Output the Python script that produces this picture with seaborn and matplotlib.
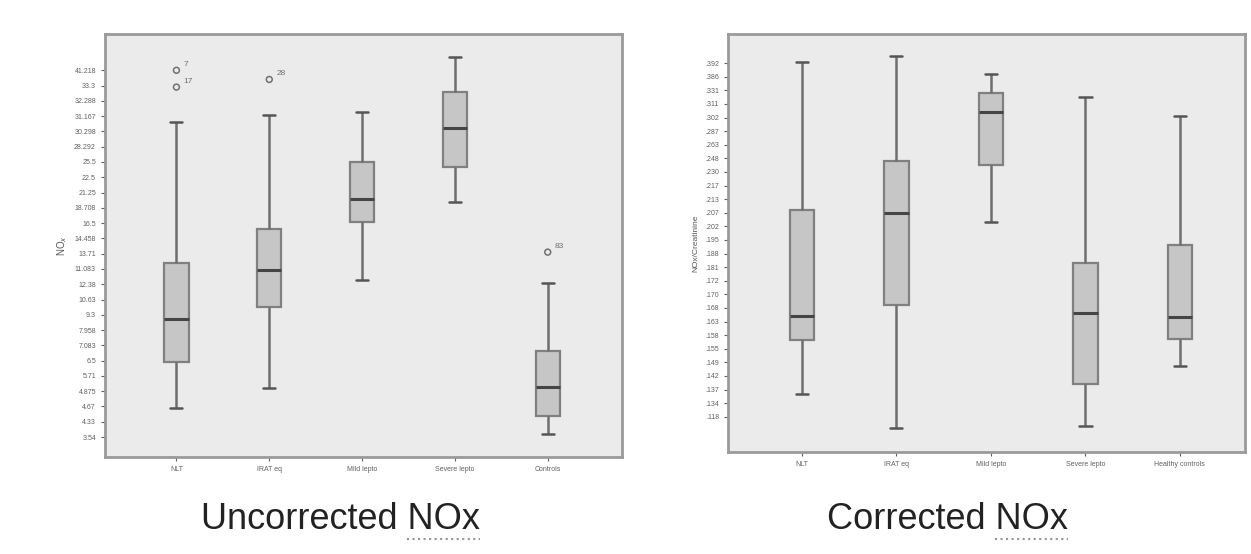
import pandas as pd
import matplotlib.pyplot as plt
import seaborn as sns
from matplotlib.lines import Line2D

# Groups and their five-number summaries (in axis tick-step units)
groups_left = ['NLT', 'IRAT eq', 'Mild lepto', 'Severe lepto', 'Controls']
low_left = [1.9, 3.2, 10.3, 15.4, 0.2]
q1_left = [4.9, 8.5, 14.1, 17.7, 1.4]
med_left = [7.7, 10.9, 15.6, 20.2, 3.3]
q3_left = [11.4, 13.6, 18.0, 22.6, 5.6]
high_left = [20.6, 21.1, 21.3, 24.9, 10.1]

out_group_left = ['NLT', 'NLT', 'IRAT eq', 'Controls']
out_val_left = [24.0, 22.9, 23.4, 12.1]
out_lab_left = ['7', '17', '28', '83']

ytick_left = ['3.54', '4.33', '4.67', '4.875', '5.71', '6.5', '7.083', '7.958',
              '9.3', '10.63', '12.38', '11.083', '13.71', '14.458', '16.5',
              '18.708', '21.25', '22.5', '25.5', '28.292', '30.298', '31.167',
              '32.288', '33.3', '41.218']

groups_right = ['NLT', 'IRAT eq', 'Mild lepto', 'Severe lepto', 'Healthy controls']
low_right = [1.7, -0.85, 14.3, -0.65, 3.7]
q1_right = [5.65, 8.2, 18.5, 2.4, 5.7]
med_right = [7.4, 15.0, 22.4, 7.65, 7.35]
q3_right = [15.2, 18.8, 23.8, 11.3, 12.6]
high_right = [26.1, 26.5, 25.2, 23.5, 22.1]

ytick_right = ['.118', '.134', '.137', '.142', '.149', '.155', '.158', '.163',
               '.168', '.170', '.172', '.181', '.188', '.195', '.202', '.207',
               '.213', '.217', '.230', '.248', '.263', '.287', '.302', '.311',
               '.331', '.386', '.392']

titles = ['Uncorrected NOx', 'Corrected NOx']


def to_long(groups, *cols):
    rows = []
    for i, g in enumerate(groups):
        for c in cols:
            rows.append({'group': g, 'value': c[i]})
    return pd.DataFrame(rows)


sns.set_style("white")
plt.rcParams['font.family'] = ['Liberation Sans', 'DejaVu Sans']

fig = plt.figure(figsize=(12.51, 5.54), dpi=100)
ax1 = fig.add_axes([0.0839, 0.175, 0.4133, 0.7635])
ax2 = fig.add_axes([0.582, 0.184, 0.4133, 0.7545])

box_kw = dict(whis=(0, 100), width=0.26, color='#c6c6c6', linecolor='#808080',
              linewidth=1.6, showfliers=False,
              medianprops=dict(color='#454545', linewidth=2.2),
              whiskerprops=dict(color='#6e6e6e', linewidth=1.8),
              capprops=dict(color='#555555', linewidth=1.8))

df_left = to_long(groups_left, low_left, q1_left, med_left, q3_left, high_left)
sns.boxplot(data=df_left, x='group', y='value', order=groups_left, ax=ax1, **box_kw)
df_out = pd.DataFrame({'group': out_group_left, 'value': out_val_left})
sns.scatterplot(data=df_out, x='group', y='value', ax=ax1, marker='o', s=18,
                facecolor='none', edgecolor='#707070', linewidth=1.1)
for g, v, lab in zip(out_group_left, out_val_left, out_lab_left):
    ax1.annotate(lab, (groups_left.index(g), v), xytext=(5, 3),
                 textcoords='offset points', fontsize=6, color='#707070')

df_right = to_long(groups_right, low_right, q1_right, med_right, q3_right, high_right)
sns.boxplot(data=df_right, x='group', y='value', order=groups_right, ax=ax2, **box_kw)

ax1.set_xlim(-0.77, 4.80)
ax1.set_ylim(-1.31, 26.37)
ax1.set_yticks(range(len(ytick_left)))
ax1.set_yticklabels(ytick_left)
ax1.set_ylabel('NO$_x$', fontsize=7, color='#555555', labelpad=4)

ax2.set_xlim(-0.78, 4.69)
ax2.set_ylim(-2.6, 28.14)
ax2.set_yticks(range(len(ytick_right)))
ax2.set_yticklabels(ytick_right)
ax2.set_ylabel('NOx/Creatinine', fontsize=6, color='#555555', labelpad=4)

for ax in (ax1, ax2):
    ax.set_facecolor('#ebebeb')
    ax.set_xlabel('')
    ax.tick_params(axis='both', labelsize=5, colors='#606060', length=3,
                   width=0.8, direction='out', left=True, bottom=True)
    for s in ax.spines.values():
        s.set_color('#9a9a9a')
        s.set_linewidth(2)

# big captions under each panel, with the dotted proofing mark under "NOx"
renderer = fig.canvas.get_renderer()
for xc, title in zip([0.272, 0.757], titles):
    t = fig.text(xc, 0.062, title, fontsize=26, color='#222222',
                 ha='center', va='center')
    bb = t.get_window_extent(renderer)
    head = fig.text(0, 0, title[:-3], fontsize=26)
    w_head = head.get_window_extent(renderer).width
    head.remove()
    x0 = (bb.x0 + w_head) / fig.bbox.width
    x1 = bb.x1 / fig.bbox.width
    yl = (bb.y0 - 2) / fig.bbox.height
    fig.add_artist(Line2D([x0, x1], [yl, yl], transform=fig.transFigure,
                          color='#a09090', linestyle=':', linewidth=1.5))

plt.savefig('out.png', dpi=100, facecolor='white')
print("Chart generated: out.png")
